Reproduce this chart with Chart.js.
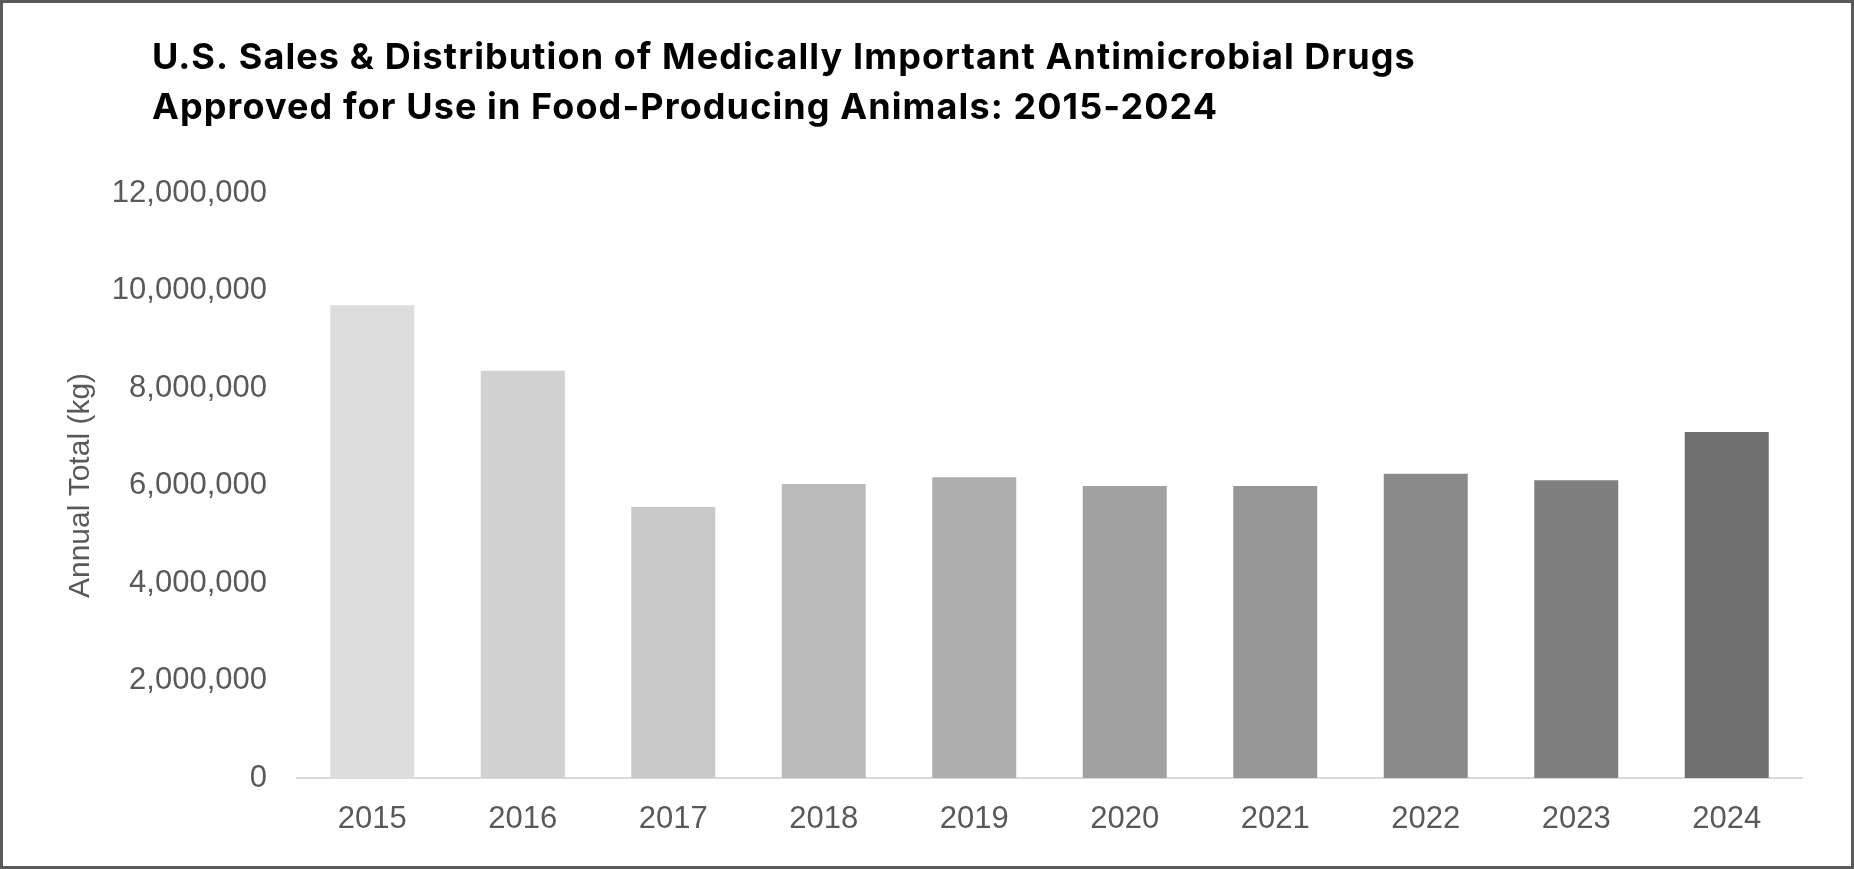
<!DOCTYPE html>
<html>
<head>
<meta charset="utf-8">
<script src="https://cdn.jsdelivr.net/npm/chart.js@4"></script>
<style>
    html, body { margin: 0; padding: 0; background: #fff; }
    #frame { width: 1854px; height: 869px; box-sizing: border-box; border: 3px solid #5a5a5a; background: #fff; }
    canvas { display: block; }
</style>
</head>
<body>
<div id="frame"><canvas id="salesChart" width="1848" height="863"></canvas></div>
<script>
//Chart data
const years = ['2015', '2016', '2017', '2018', '2019', '2020', '2021', '2022', '2023', '2024'];
const annualTotalKg = [9700000, 8355000, 5560000, 6030000, 6170000, 5990000, 5990000, 6240000, 6110000, 7100000];
const barColors = ['#dddddd', '#d1d1d1', '#c8c8c8', '#bbbbbb', '#adadad', '#a0a0a0', '#969696', '#8a8a8a', '#7f7f7f', '#6f6f6f'];
const titleLines = [
    'U.S. Sales & Distribution of Medically Important Antimicrobial Drugs',
    'Approved for Use in Food-Producing Animals: 2015-2024'
];
const yAxisTitle = 'Annual Total (kg)';
const yMax = 12000000;
const yStep = 2000000;

const textGray = '#595959';
const tickFont = { family: "'Liberation Sans', Arial, sans-serif", size: 31 };

//Title sits left of the plot area, so draw it ourselves
const leftTitle = {
    id: 'leftTitle',
    afterDraw: function (chart) {
        let ctx = chart.ctx;
        ctx.save();
        ctx.font = "bold 36px Inter, 'Liberation Sans', sans-serif";
        ctx.letterSpacing = '1.1px';
        ctx.fillStyle = '#000000';
        ctx.textAlign = 'left';
        ctx.textBaseline = 'middle';
        for (let i = 0; i < titleLines.length; i++) {
            ctx.fillText(titleLines[i], 149, 55 + i * 50);
        }
        ctx.restore();
    }
};

new Chart(
    document.getElementById('salesChart'),
    {
        type: 'bar',
        data: {
            labels: years,
            datasets: [
                {
                    label: yAxisTitle,
                    data: annualTotalKg,
                    backgroundColor: barColors,
                    borderWidth: 0,
                    categoryPercentage: 1,
                    barPercentage: 0.558
                }
            ]
        },
        options: {
            responsive: false,
            animation: false,
            devicePixelRatio: 1,
            layout: {
                padding: { top: 190, right: 49, bottom: 0, left: 0 }
            },
            plugins: {
                legend: { display: false },
                title: { display: false },
                tooltip: { enabled: false }
            },
            scales: {
                x: {
                    grid: { display: false, drawTicks: false },
                    border: { display: true, color: '#d9d9d9', width: 2 },
                    ticks: { color: textGray, font: tickFont, padding: 23 },
                    afterFit: function (scale) { scale.height = 88; }
                },
                y: {
                    min: 0,
                    max: yMax,
                    grid: { display: false, drawTicks: false },
                    border: { display: false },
                    ticks: {
                        stepSize: yStep,
                        color: textGray,
                        font: tickFont,
                        padding: 30,
                        callback: function (value) { return value.toLocaleString('en-US'); }
                    },
                    title: {
                        display: true,
                        text: yAxisTitle,
                        color: textGray,
                        font: { family: tickFont.family, size: 30 },
                        padding: { top: 60, bottom: 0 }
                    },
                    afterFit: function (scale) { scale.width = 294; }
                }
            }
        },
        plugins: [leftTitle]
    }
);
</script>
</body>
</html>
